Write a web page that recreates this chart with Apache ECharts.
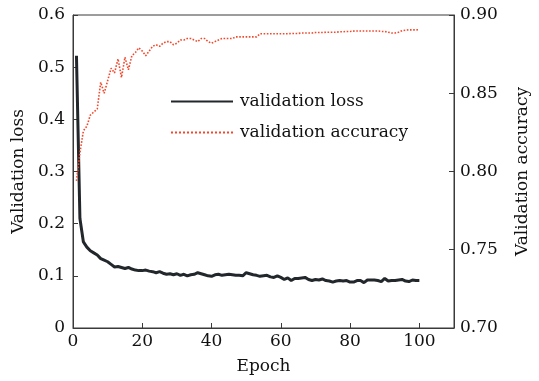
<!DOCTYPE html>
<html>
<head>
<meta charset="utf-8">
<script src="https://cdn.jsdelivr.net/npm/echarts@6/dist/echarts.min.js"></script>
<style>html,body{margin:0;padding:0;background:#fff}#c{width:539px;height:381px}</style>
</head>
<body>
<div id="c"></div>
<script>
const epochs = [1,2,3,4,5,6,7,8,9,10,11,12,13,14,15,16,17,18,19,20,21,22,23,24,25,26,27,28,29,30,31,32,33,34,35,36,37,38,39,40,41,42,43,44,45,46,47,48,49,50,51,52,53,54,55,56,57,58,59,60,61,62,63,64,65,66,67,68,69,70,71,72,73,74,75,76,77,78,79,80,81,82,83,84,85,86,87,88,89,90,91,92,93,94,95,96,97,98,99,100];
const valLoss = [0.522,0.210,0.165,0.155,0.148,0.144,0.140,0.133,0.130,0.127,
0.122,0.117,0.118,0.116,0.114,0.116,0.113,0.111,0.110,0.110,
0.111,0.109,0.108,0.106,0.108,0.105,0.103,0.104,0.102,0.104,
0.101,0.103,0.100,0.102,0.103,0.106,0.104,0.102,0.100,0.099,
0.102,0.103,0.101,0.102,0.103,0.102,0.101,0.101,0.100,0.106,
0.104,0.102,0.101,0.099,0.100,0.101,0.098,0.097,0.100,0.097,
0.093,0.096,0.091,0.095,0.095,0.096,0.097,0.093,0.091,0.093,
0.092,0.094,0.091,0.090,0.088,0.090,0.091,0.090,0.091,0.088,
0.088,0.091,0.091,0.087,0.092,0.092,0.092,0.091,0.089,0.095,
0.090,0.091,0.091,0.092,0.093,0.090,0.089,0.092,0.091,0.091];
const valAcc = [0.794,0.812,0.826,0.829,0.836,0.838,0.840,0.857,0.850,0.858,
0.866,0.863,0.872,0.860,0.873,0.865,0.874,0.876,0.879,0.877,
0.874,0.877,0.880,0.881,0.880,0.882,0.883,0.883,0.881,0.882,
0.884,0.884,0.885,0.885,0.884,0.883,0.885,0.885,0.883,0.882,
0.883,0.884,0.885,0.885,0.885,0.885,0.886,0.886,0.886,0.886,
0.886,0.886,0.886,0.888,0.888,0.888,0.888,0.888,0.888,0.888,
0.888,0.888,0.8882,0.8882,0.8882,0.8885,0.8885,0.8885,0.8885,0.8888,
0.8888,0.8888,0.889,0.889,0.889,0.889,0.8893,0.8893,0.8895,0.8895,
0.8897,0.8898,0.8898,0.8898,0.8898,0.8898,0.8898,0.8898,0.8895,0.8895,
0.889,0.8885,0.8885,0.889,0.890,0.8903,0.8905,0.8905,0.8905,0.8906];
const xTicks = [0,20,40,60,80,100];
const lossTicks = [0,0.1,0.2,0.3,0.4,0.5,0.6];
const accTicks = [0.70,0.75,0.80,0.85,0.90];

const font = 'DejaVu Serif';
const axisColor = '#3a3a3a';
const chart = echarts.init(document.getElementById('c'), null, {renderer:'canvas'});
chart.setOption({
  animation:false,
  backgroundColor:'#fff',
  textStyle:{fontFamily:font},
  grid:{left:73, right:78, top:15, bottom:53, show:true, borderColor:axisColor, borderWidth:1, containLabel:false},
  legend:{
    left:165, top:88, orient:'vertical', itemWidth:62, itemHeight:14, itemGap:14,
    itemStyle:{opacity:0},
    textStyle:{fontFamily:font, fontSize:17, color:'#111', padding:[0,0,0,2]},
    data:['validation loss','validation accuracy']
  },
  xAxis:{
    type:'value', min:0, max:110, interval:20,
    name:'Epoch', nameLocation:'middle', nameGap:30,
    nameTextStyle:{fontFamily:font, fontSize:17, color:'#111'},
    axisLine:{lineStyle:{color:axisColor, width:1}},
    axisTick:{inside:true, length:5, lineStyle:{color:axisColor}},
    axisLabel:{fontFamily:font, fontSize:17, color:'#111', margin:5, showMaxLabel:false,
      formatter:v=>xTicks.includes(v)?String(v):''},
    splitLine:{show:false}
  },
  yAxis:[{
    type:'value', min:0, max:0.6, interval:0.1, position:'left',
    name:'Validation loss', nameLocation:'middle', nameGap:45,
    nameTextStyle:{fontFamily:font, fontSize:17, color:'#111'},
    axisLine:{show:true, lineStyle:{color:axisColor}},
    axisTick:{show:true, inside:true, length:5, lineStyle:{color:axisColor}},
    axisLabel:{fontFamily:font, fontSize:17, color:'#111', margin:8,
      formatter:v=>{const t=lossTicks.find(x=>Math.abs(x-v)<1e-6);return t===0?'0':t.toFixed(1);}},
    splitLine:{show:false}
  },{
    type:'value', min:0.70, max:0.90, interval:0.05, position:'right',
    name:'Validation accuracy', nameLocation:'middle', nameGap:60, nameRotate:90,
    nameTextStyle:{fontFamily:font, fontSize:17, color:'#111'},
    axisLine:{show:true, lineStyle:{color:axisColor}},
    axisTick:{show:true, inside:true, length:5, lineStyle:{color:axisColor}},
    axisLabel:{fontFamily:font, fontSize:17, color:'#111', margin:6,
      formatter:v=>{const t=accTicks.find(x=>Math.abs(x-v)<1e-6);return t.toFixed(2);}},
    splitLine:{show:false}
  }],
  series:[{
    name:'validation loss', type:'line', yAxisIndex:0, symbol:'none', showSymbol:false,
    data:epochs.map((e,i)=>[e,valLoss[i]]),
    lineStyle:{color:'#22272b', width:3}, itemStyle:{color:'#22272b'}
  },{
    name:'validation accuracy', type:'line', yAxisIndex:1, symbol:'none', showSymbol:false,
    data:epochs.map((e,i)=>[e,valAcc[i]]),
    lineStyle:{color:'#f2482c', width:1.6, type:'dotted'}, itemStyle:{color:'#f2482c'}
  }]
});
</script>
</body>
</html>
